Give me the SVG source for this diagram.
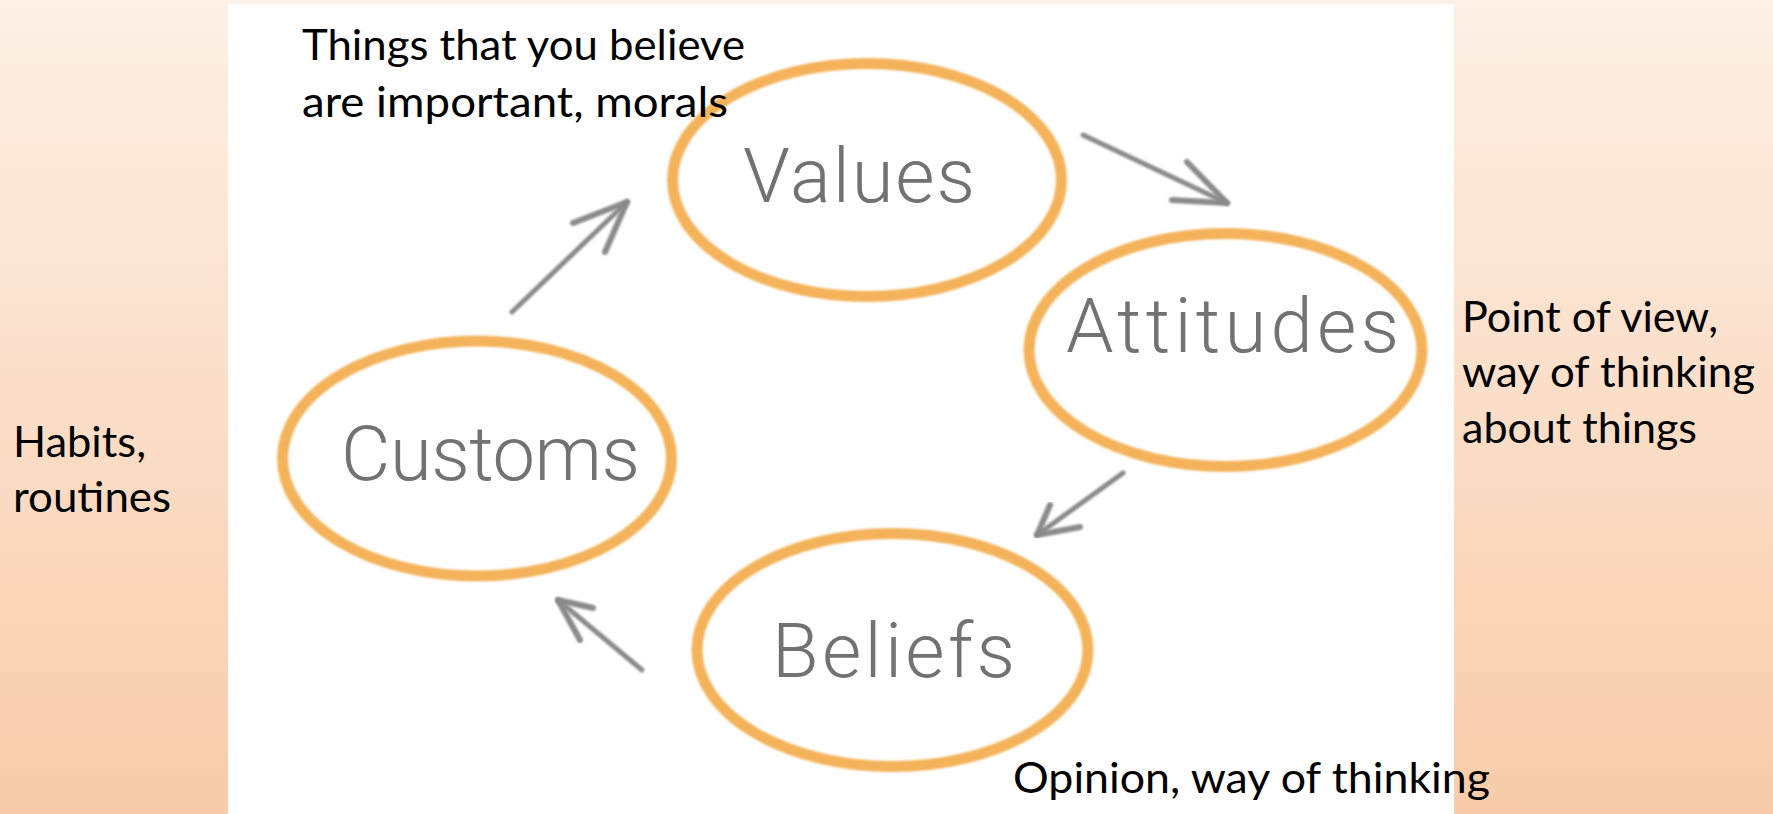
<svg xmlns="http://www.w3.org/2000/svg" width="1773" height="814" viewBox="0 0 1773 814">
<defs>
<linearGradient id="bg" x1="0" y1="0" x2="0" y2="1">
<stop offset="0" stop-color="#fdf0e6"/>
<stop offset="1" stop-color="#f8ccaa"/>
</linearGradient>
<filter id="soft" x="-10%" y="-10%" width="120%" height="120%">
<feGaussianBlur stdDeviation="0.9"/>
</filter>
<filter id="softer" x="-10%" y="-10%" width="120%" height="120%">
<feGaussianBlur stdDeviation="0.6"/>
</filter>
</defs>
<style>
.ring{fill:none;stroke:#f4b35a;stroke-width:11;filter:url(#soft)}
.label{font-family:Roboto,"Liberation Sans",Arial,sans-serif;font-weight:300;font-size:76px;fill:#727272;filter:url(#softer)}
.note{font-family:Lato,"Liberation Sans",Arial,sans-serif;font-size:42px;fill:#000}
.conn{fill:none;stroke:#8a8a8a;stroke-width:5;stroke-linecap:round;stroke-linejoin:round;filter:url(#soft)}
.head{stroke-width:6}
</style>
<rect x="0" y="0" width="1773" height="814" fill="url(#bg)"/>
<rect x="228" y="4" width="1226" height="810" fill="#ffffff"/>

<g id="connectors">
<g id="customs-to-values"><path class="conn" d="M512,312 L627,202"/><path class="conn head" d="M573,223 L627,202 L605,252"/></g>
<g id="values-to-attitudes"><path class="conn" d="M1083,135 L1227,203"/><path class="conn head" d="M1187,162 L1227,203 L1172,200"/></g>
<g id="attitudes-to-beliefs"><path class="conn" d="M1123,473 L1037,535"/><path class="conn head" d="M1050,505 L1037,535 L1080,527"/></g>
<g id="beliefs-to-customs"><path class="conn" d="M642,670 L558,600"/><path class="conn head" d="M593,608 L558,600 L580,640"/></g>
</g>

<g id="node-values">
<ellipse class="ring" cx="867" cy="180" rx="194.5" ry="116.5"/>
<text class="label" x="743" y="202" textLength="232">Values</text>
</g>
<g id="node-attitudes">
<ellipse class="ring" cx="1225.5" cy="350" rx="196.5" ry="116.5"/>
<text class="label" x="1066" y="352" textLength="333">Attitudes</text>
</g>
<g id="node-customs">
<ellipse class="ring" cx="477" cy="458.5" rx="194.5" ry="117.5"/>
<text class="label" x="341" y="480" textLength="299">Customs</text>
</g>
<g id="node-beliefs">
<ellipse class="ring" cx="892.5" cy="650" rx="195.5" ry="116.5"/>
<text class="label" x="772" y="677" textLength="243">Beliefs</text>
</g>

<g id="note-values">
<text class="note" x="302" y="60" textLength="443" lengthAdjust="spacingAndGlyphs">Things that you believe</text>
<text class="note" x="302" y="117" textLength="426" lengthAdjust="spacingAndGlyphs">are important, morals</text>
</g>
<g id="note-attitudes">
<text class="note" x="1462" y="332" textLength="256" lengthAdjust="spacingAndGlyphs">Point of view,</text>
<text class="note" x="1462" y="387" textLength="293" lengthAdjust="spacingAndGlyphs">way of thinking</text>
<text class="note" x="1462" y="443" textLength="235" lengthAdjust="spacingAndGlyphs">about things</text>
</g>
<g id="note-customs">
<text class="note" x="13" y="457" textLength="133" lengthAdjust="spacingAndGlyphs">Habits,</text>
<text class="note" x="13" y="512" textLength="158" lengthAdjust="spacingAndGlyphs">routines</text>
</g>
<g id="note-beliefs">
<text class="note" x="1013" y="793" textLength="477" lengthAdjust="spacingAndGlyphs">Opinion, way of thinking</text>
</g>
</svg>
